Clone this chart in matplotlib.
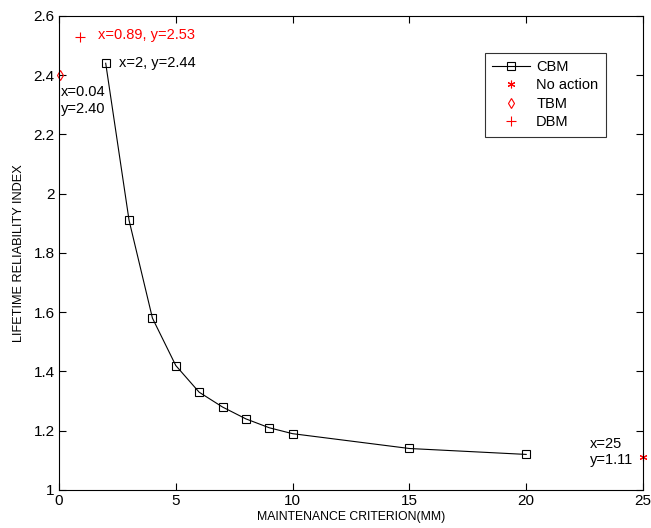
import numpy as np
import matplotlib.pyplot as plt
from matplotlib import font_manager

# Datos
criterio = [2, 3, 4, 5, 6, 7, 8, 9, 10, 15, 20]
indice_cbm = [2.44, 1.91, 1.58, 1.42, 1.33, 1.28, 1.24, 1.21, 1.19, 1.14, 1.12]
no_action = (25, 1.11)
tbm = (0.04, 2.40)
dbm = (0.89, 2.53)

nombres = {f.name for f in font_manager.fontManager.ttflist}
fuente = 'Liberation Sans' if 'Liberation Sans' in nombres else 'DejaVu Sans'
estrecha = 'Liberation Sans Narrow' if 'Liberation Sans Narrow' in nombres else fuente
plt.rcParams['font.family'] = fuente

fig = plt.figure(figsize=(6.51, 5.28), dpi=100)
ax = fig.add_axes([0.0906, 0.072, 0.8971, 0.898])

ax.plot(criterio, indice_cbm, color='black', linewidth=0.8, marker='s',
        markersize=6, markerfacecolor='none', markeredgecolor='black',
        markeredgewidth=0.8, label='CBM')
ax.plot(no_action[0], no_action[1], linestyle='none', marker=(6, 2, 0),
        markersize=5.5, color='red', markeredgewidth=0.8, clip_on=False,
        label='No action')
ax.plot(tbm[0], tbm[1], linestyle='none', marker='d', markersize=5.5,
        markerfacecolor='none', markeredgecolor='red', markeredgewidth=0.8,
        clip_on=False, label='TBM')
ax.plot(dbm[0], dbm[1], linestyle='none', marker='+', markersize=7,
        color='red', markeredgewidth=0.8, clip_on=False, label='DBM')

# Anotaciones
ax.text(1.66, 2.537, 'x=0.89, y=2.53', color='red', fontsize=10.5, va='center')
ax.text(2.56, 2.44, 'x=2, y=2.44', color='black', fontsize=10.5, va='center')
ax.text(0.1, 2.365, 'x=0.04\ny=2.40', color='black', fontsize=10.5, va='top',
        linespacing=1.2)
ax.text(22.72, 1.18, 'x=25\ny=1.11', color='black', fontsize=10.5, va='top',
        linespacing=1.2)

ax.set_xlim(0, 25)
ax.set_ylim(1, 2.6)
ax.set_xticks([0, 5, 10, 15, 20, 25])
ax.set_yticks([1, 1.2, 1.4, 1.6, 1.8, 2, 2.2, 2.4, 2.6])
ax.set_yticklabels(['1', '1.2', '1.4', '1.6', '1.8', '2', '2.2', '2.4', '2.6'])
ax.tick_params(direction='in', top=True, right=True, length=5, width=0.8,
               labelsize=11, pad=3)
for s in ax.spines.values():
    s.set_linewidth(0.8)

ax.set_xlabel('MAINTENANCE CRITERION(MM)', fontsize=8.8, family=estrecha,
              labelpad=2)
ax.set_ylabel('LIFETIME RELIABILITY INDEX', fontsize=9.2, family=estrecha,
              labelpad=6)

leg = ax.legend(loc='upper right', bbox_to_anchor=(0.936, 0.922),
                borderaxespad=0, fontsize=10.5, frameon=True, fancybox=False,
                edgecolor='black', handlelength=2.6, handletextpad=0.4,
                borderpad=0.5, labelspacing=0.3)
leg.get_frame().set_linewidth(0.8)

fig.savefig('out.png', dpi=100)
